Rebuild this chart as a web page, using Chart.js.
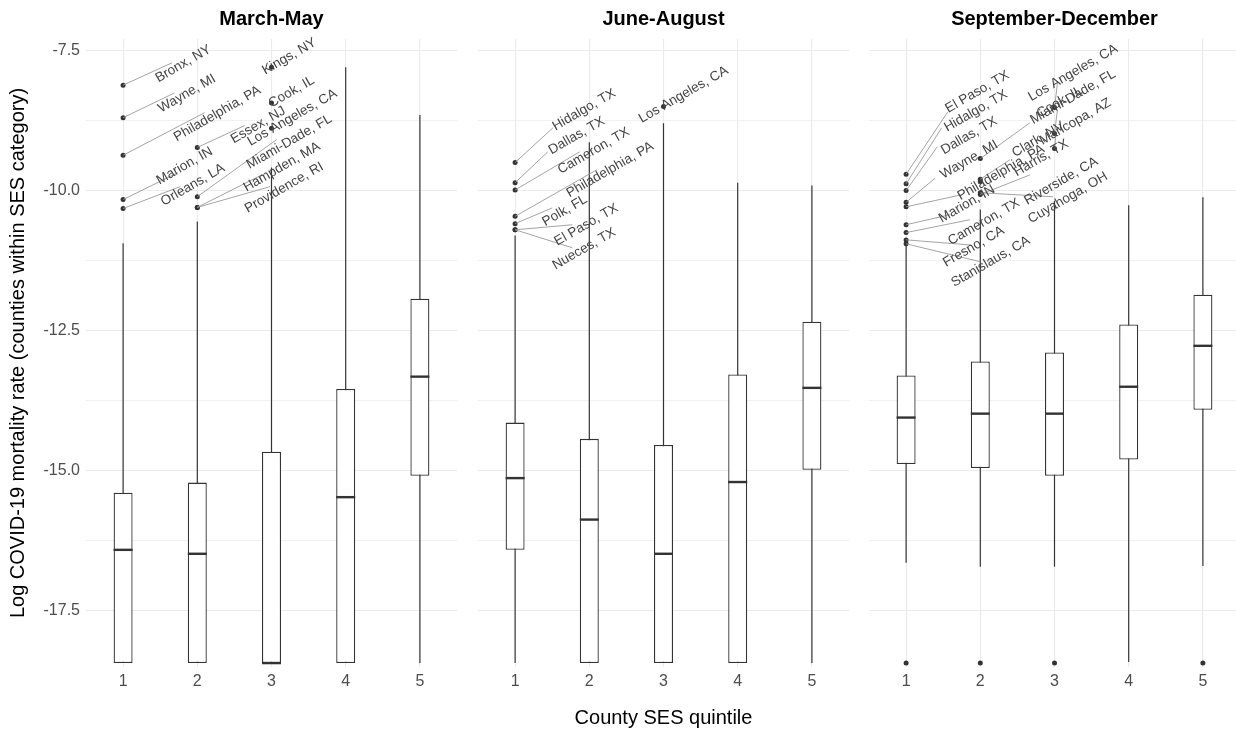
<!DOCTYPE html>
<html><head><meta charset="utf-8">
<script src="https://cdn.jsdelivr.net/npm/chart.js@4/dist/chart.umd.min.js"></script>
<style>
html,body{margin:0;padding:0;background:#fff;overflow:hidden;width:1236px;height:730px;}
canvas{position:absolute;top:0;}
</style></head><body>
<canvas id="p1" width="457" height="730" style="left:0px"></canvas>
<canvas id="p2" width="371" height="730" style="left:478px"></canvas>
<canvas id="p3" width="371" height="730" style="left:869px"></canvas>
<script>
// ---------------- DATA ----------------
const panelTitles = ['March-May', 'June-August', 'September-December'];
const quintiles = ['1', '2', '3', '4', '5'];
const yMajorTicks = [-17.5, -15, -12.5, -10, -7.5];
const yMinorTicks = [-16.25, -13.75, -11.25, -8.75];
const yAxisTitle = 'Log COVID-19 mortality rate (counties within SES category)';
const xAxisTitle = 'County SES quintile';

// March-May box statistics (quintiles 1..5)
const marMayWhiskerLow  = [-18.43, -18.43, -18.43, -18.43, -18.43];
const marMayQ1          = [-18.43, -18.43, -18.43, -18.43, -15.09];
const marMayMedian      = [-16.41, -16.48, -18.43, -15.47, -13.32];
const marMayQ3          = [-15.39, -15.21, -14.66, -13.54, -11.93];
const marMayWhiskerHigh = [-10.94, -10.55, -9.59, -7.80, -8.65];

// June-August box statistics
const junAugWhiskerLow  = [-18.43, -18.43, -18.43, -18.43, -18.43];
const junAugQ1          = [-16.41, -18.43, -18.43, -18.43, -14.98];
const junAugMedian      = [-15.13, -15.87, -16.48, -15.20, -13.52];
const junAugQ3          = [-14.14, -14.43, -14.54, -13.28, -12.34];
const junAugWhiskerHigh = [-10.80, -9.14, -8.80, -9.86, -9.91];

// September-December box statistics
const sepDecWhiskerLow  = [-16.64, -16.71, -16.71, -18.41, -16.70];
const sepDecQ1          = [-14.88, -14.95, -15.09, -14.80, -13.91];
const sepDecMedian      = [-14.05, -13.98, -13.98, -13.50, -12.77];
const sepDecQ3          = [-13.30, -13.05, -12.89, -12.39, -11.86];
const sepDecWhiskerHigh = [-10.97, -10.34, -10.18, -10.26, -10.12];

// Outliers (county name, quintile, value)
const marMayOutNames = ['Bronx, NY', 'Wayne, MI', 'Philadelphia, PA', 'Marion, IN', 'Orleans, LA',
  'Essex, NJ', 'Miami-Dade, FL', 'Hampden, MA', 'Providence, RI', 'Kings, NY', 'Cook, IL', 'Los Angeles, CA'];
const marMayOutQuint = [1, 1, 1, 1, 1, 2, 2, 2, 2, 3, 3, 3];
const marMayOutValue = [-8.12, -8.70, -9.37, -10.16, -10.32, -9.23, -10.11, -10.30, -10.30, -7.80, -8.44, -8.89];

const junAugOutNames = ['Hidalgo, TX', 'Dallas, TX', 'Cameron, TX', 'Philadelphia, PA', 'Polk, FL',
  'El Paso, TX', 'Nueces, TX', 'Los Angeles, CA'];
const junAugOutQuint = [1, 1, 1, 1, 1, 1, 1, 3];
const junAugOutValue = [-9.50, -9.86, -9.99, -10.46, -10.59, -10.70, -10.70, -8.50];

const sepDecOutNames = ['El Paso, TX', 'Hidalgo, TX', 'Dallas, TX', 'Wayne, MI', 'Philadelphia, PA',
  'Marion, IN', 'Cameron, TX', 'Fresno, CA', 'Stanislaus, CA', 'Miami-Dade, FL', 'Clark, NV',
  'Cuyahoga, OH', 'Riverside, CA', 'Harris, TX', 'Los Angeles, CA', 'Cook, IL', 'Maricopa, AZ',
  '', '', '', ''];
const sepDecOutQuint = [1, 1, 1, 1, 1, 1, 1, 1, 1, 2, 2, 2, 2, 2, 3, 3, 3, 1, 2, 3, 5];
const sepDecOutValue = [-9.71, -9.88, -10.00, -10.21, -10.29, -10.61, -10.75, -10.88, -10.95,
  -9.43, -9.80, -9.84, -10.04, -10.07, -8.52, -8.98, -9.25, -18.43, -18.43, -18.43, -18.43];

// ---------------- LABEL LAYOUT (repelled label centres / segment ends, in axis units) ----------------
const marMayLabelX = [1.81, 1.86, 2.27, 1.83, 1.94, 2.82, 3.24, 3.14, 3.17, 3.24, 3.27, 3.28];
const marMayLabelY = [-7.74, -8.27, -8.63, -9.56, -9.90, -8.83, -9.13, -9.58, -9.95, -7.61, -8.24, -8.70];
const marMaySegX   = [1.66, 1.69, 2.10, 1.74, 1.77, 2.64, 3.07, 2.87, 2.98, null, null, null];
const marMaySegY   = [-7.72, -8.26, -8.61, -9.68, -9.93, -8.84, -9.09, -9.72, -9.93, null, null, null];

const junAugLabelX = [1.93, 1.83, 2.06, 2.28, 1.67, 1.96, 1.93, 3.27];
const junAugLabelY = [-8.56, -9.02, -9.29, -9.63, -10.36, -10.61, -11.04, -8.29];
const junAugSegX   = [1.51, 1.44, 1.87, 2.10, 1.50, 1.77, 1.77, null];
const junAugSegY   = [-8.88, -9.31, -9.31, -9.63, -10.31, -10.61, -11.02, null];

const sepDecLabelX = [1.96, 1.94, 1.85, 1.85, 2.28, 1.82, 2.05, 1.91, 2.14, 3.25, 2.78, 3.18, 3.09, 2.82, 3.25, 3.07, 3.28];
const sepDecLabelY = [-8.24, -8.58, -9.02, -9.45, -9.68, -10.24, -10.56, -11.00, -11.27, -8.33, -9.09, -10.13, -9.83, -9.42, -7.90, -8.42, -8.77];
const sepDecSegX   = [1.56, 1.48, 1.42, 1.39, 1.73, 1.59, 1.86, 1.86, 2.00, 2.67, 2.40, null, 2.98, 2.67, 3.04, 3.04, 3.02];
const sepDecSegY   = [-8.60, -8.88, -9.22, -9.78, -10.08, -10.43, -10.52, -10.97, -11.27, -8.79, -9.45, null, -10.11, -9.72, -8.08, -8.56, -9.00];

// ---------------- STYLE ----------------
const FONT = '"Liberation Sans", Arial, Helvetica, sans-serif';
const INK = '#333333';
const GRID = '#EBEBEB';
const TICK_COLOR = '#4D4D4D';
const Y_MIN = -18.5, Y_MAX = -7.296;

function repelLabels(names, quint, vals, lx, ly, sx, sy) {
  return {
    id: 'repelLabels',
    afterDatasetsDraw(chart) {
      const {ctx, scales: {x, y}} = chart;
      ctx.save();
      ctx.strokeStyle = '#9a9a9a';
      ctx.lineWidth = 0.9;
      for (let i = 0; i < names.length; i++) {
        if (!names[i] || sx[i] == null) continue;
        const px = x.getPixelForValue(quint[i] - 1), py = y.getPixelForValue(vals[i]);
        const ex = x.getPixelForValue(sx[i] - 1), ey = y.getPixelForValue(sy[i]);
        ctx.beginPath(); ctx.moveTo(px, py); ctx.lineTo(ex, ey); ctx.stroke();
      }
      ctx.fillStyle = '#444444';
      ctx.font = '13.5px ' + FONT;
      ctx.textAlign = 'center';
      ctx.textBaseline = 'middle';
      for (let i = 0; i < names.length; i++) {
        if (!names[i]) continue;
        const cx = x.getPixelForValue(lx[i] - 1), cy = y.getPixelForValue(ly[i]);
        ctx.save();
        ctx.translate(cx, cy);
        ctx.rotate(-Math.PI / 6);
        ctx.fillText(names[i], 0, 0);
        ctx.restore();
      }
      ctx.restore();
    }
  };
}

function makePanel(canvasId, idx, lo, q1, med, q3, hi, outNames, outQuint, outVal, lx, ly, sx, sy) {
  const first = idx === 0, middle = idx === 1;
  const outliers = outVal.map((v, i) => ({x: quintiles[outQuint[i] - 1], y: v}));
  return new Chart(document.getElementById(canvasId), {
    type: 'bar',
    data: {
      labels: quintiles,
      datasets: [
        { type: 'line', data: outliers, showLine: false, pointRadius: 2.5, pointStyle: 'circle',
          pointBackgroundColor: INK, pointBorderWidth: 0, pointHoverRadius: 2.5, clip: false },
        { type: 'line', data: med, showLine: false, pointStyle: 'line', pointRadius: 9.5,
          pointBorderColor: INK, pointBorderWidth: 2.4, pointHoverRadius: 9.5, pointHoverBorderWidth: 2.4, clip: false },
        { type: 'bar', data: q1.map((v, i) => [v, q3[i]]), backgroundColor: '#ffffff',
          borderColor: INK, borderWidth: 1.3, borderSkipped: false, grouped: false,
          barPercentage: 0.256, categoryPercentage: 1 },
        { type: 'bar', data: lo.map((v, i) => [v, hi[i]]), backgroundColor: INK,
          borderWidth: 0, grouped: false, barPercentage: 0.016, categoryPercentage: 1 }
      ]
    },
    options: {
      responsive: false, animation: false, events: [],
      layout: { padding: 0, autoPadding: false },
      plugins: {
        legend: { display: false }, tooltip: { enabled: false },
        title: { display: true, text: panelTitles[idx], color: '#000', fullSize: false,
          font: { family: FONT, size: 20, weight: 'bold' }, padding: { top: 7, bottom: 8 } }
      },
      scales: {
        x: {
          offset: true,
          border: { display: false },
          grid: { offset: false, color: GRID, lineWidth: 1.1, drawTicks: false },
          ticks: { color: TICK_COLOR, font: { family: FONT, size: 16 }, padding: 5, maxRotation: 0 },
          title: { display: middle, text: xAxisTitle, color: '#000',
            font: { family: FONT, size: 20 }, padding: { top: 0, bottom: 0 } },
          afterFit: s => { s.height = 63; s.paddingLeft = 0; s.paddingRight = 0; }
        },
        y: {
          min: Y_MIN, max: Y_MAX,
          border: { display: false },
          afterBuildTicks: s => { s.ticks = yMajorTicks.concat(yMinorTicks).sort((a, b) => a - b).map(v => ({value: v})); },
          grid: { color: GRID, drawTicks: false,
            lineWidth: c => (c.tick && yMajorTicks.includes(c.tick.value)) ? 1.1 : 0.7 },
          ticks: { display: first, autoSkip: false, color: TICK_COLOR, padding: 6,
            font: { family: FONT, size: 16 },
            callback: v => yMajorTicks.includes(v) ? v.toFixed(1) : '' },
          title: { display: first, text: yAxisTitle, color: '#000',
            font: { family: FONT, size: 20 }, padding: { top: 6, bottom: 0 } },
          afterFit: s => { s.width = first ? 86 : 0; s.paddingTop = 0; s.paddingBottom = 0; }
        }
      }
    },
    plugins: [repelLabels(outNames, outQuint, outVal, lx, ly, sx, sy)]
  });
}

makePanel('p1', 0, marMayWhiskerLow, marMayQ1, marMayMedian, marMayQ3, marMayWhiskerHigh,
  marMayOutNames, marMayOutQuint, marMayOutValue, marMayLabelX, marMayLabelY, marMaySegX, marMaySegY);
makePanel('p2', 1, junAugWhiskerLow, junAugQ1, junAugMedian, junAugQ3, junAugWhiskerHigh,
  junAugOutNames, junAugOutQuint, junAugOutValue, junAugLabelX, junAugLabelY, junAugSegX, junAugSegY);
makePanel('p3', 2, sepDecWhiskerLow, sepDecQ1, sepDecMedian, sepDecQ3, sepDecWhiskerHigh,
  sepDecOutNames, sepDecOutQuint, sepDecOutValue, sepDecLabelX, sepDecLabelY, sepDecSegX, sepDecSegY);
</script>
</body></html>
